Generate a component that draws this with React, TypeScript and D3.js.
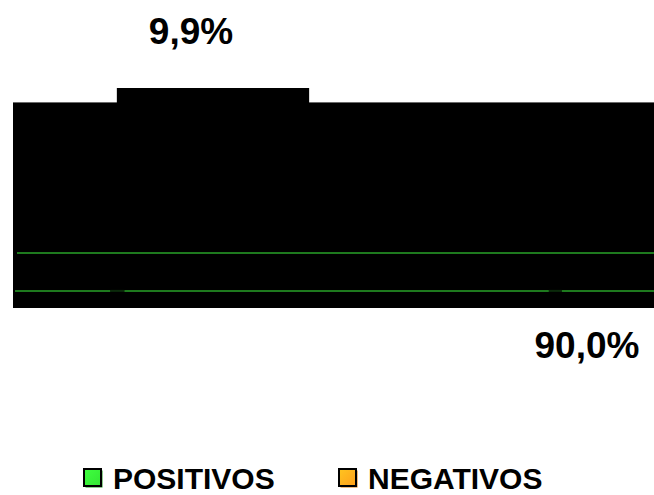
import React from "react";
import * as d3 from "d3";

const categories = ["POSITIVOS", "NEGATIVOS"];
const values = [9.9, 90.0];
const valueLabels = ["9,9%", "90,0%"];
const legendColors = ["#33e633", "#ff9f1a"];
const legendDark = ["#1a9a1a", "#d97700"];

const W = 654;
const H = 495;

export default function App() {
  // horizontal scale across the flattened 3D pie band
  const x = d3.scaleLinear().domain([0, 100]).range([13, 654]);
  const y = d3.scaleLinear().domain([0, 1]).range([308, 102]);
  const pie = d3.pie<number>().sort(null)(values);
  // exploded slice (positive) shown as raised block
  const raisedX0 = x(16.2);
  const raisedX1 = x(46.2);
  const gaps = [x(15.2), x(83.6)];
  const font = "Liberation Sans, Arial, sans-serif";
  return (
    <svg
      width={W}
      height={H}
      style={{ position: "absolute", left: 0, top: 0, background: "#fff" }}
    >
      <rect x={x(0)} y={y(1)} width={x(100) - x(0) + 10} height={y(0) - y(1)} fill="#000" />
      <line x1={x(0)} x2={W} y1={y(1) + 0.5} y2={y(1) + 0.5} stroke="#6a6a6a" strokeWidth={1} />
      <rect x={raisedX0} y={88} width={raisedX1 - raisedX0} height={y(1) - 88 + 1} fill="#000" />
      <line x1={x(0) + 4} x2={W} y1={y(0.267)} y2={y(0.267)} stroke="#1e7a1e" strokeWidth={2} />
      <line x1={x(0) + 2} x2={gaps[0]} y1={y(0.083)} y2={y(0.083)} stroke="#1e7a1e" strokeWidth={2} />
      <line x1={gaps[0]} x2={gaps[0] + 14} y1={y(0.083)} y2={y(0.083)} stroke="#0b2a0b" strokeWidth={2} />
      <line x1={gaps[0] + 14} x2={gaps[1]} y1={y(0.083)} y2={y(0.083)} stroke="#1e7a1e" strokeWidth={2} />
      <line x1={gaps[1]} x2={gaps[1] + 13} y1={y(0.083)} y2={y(0.083)} stroke="#0b2a0b" strokeWidth={2} />
      <line x1={gaps[1] + 13} x2={W} y1={y(0.083)} y2={y(0.083)} stroke="#1e7a1e" strokeWidth={2} />
      {pie.length > 0 && (
        <>
          <text x={191} y={44} textAnchor="middle" fontFamily={font} fontWeight="bold" fontSize={37} fill="#000">
            {valueLabels[0]}
          </text>
          <text x={587} y={358} textAnchor="middle" fontFamily={font} fontWeight="bold" fontSize={37} fill="#000">
            {valueLabels[1]}
          </text>
        </>
      )}
      {categories.map((c, i) => {
        const lx = [84, 339][i];
        return (
          <g key={c}>
            <defs>
              <linearGradient id={`lg${i}`} x1="0" y1="0" x2="1" y2="1">
                <stop offset="0" stopColor={d3.color(legendColors[i])!.brighter(0.6).formatHex()} />
                <stop offset="1" stopColor={legendColors[i]} />
              </linearGradient>
            </defs>
            <rect x={lx + 1.5} y={470.5} width={17} height={17} fill={legendDark[i]} />
            <rect x={lx} y={469} width={17} height={17} fill={`url(#lg${i})`} stroke="#000" strokeWidth={2} />
            <text x={lx + 29} y={489} fontFamily={font} fontWeight="bold" fontSize={30} fill="#000">
              {c}
            </text>
          </g>
        );
      })}
    </svg>
  );
}
